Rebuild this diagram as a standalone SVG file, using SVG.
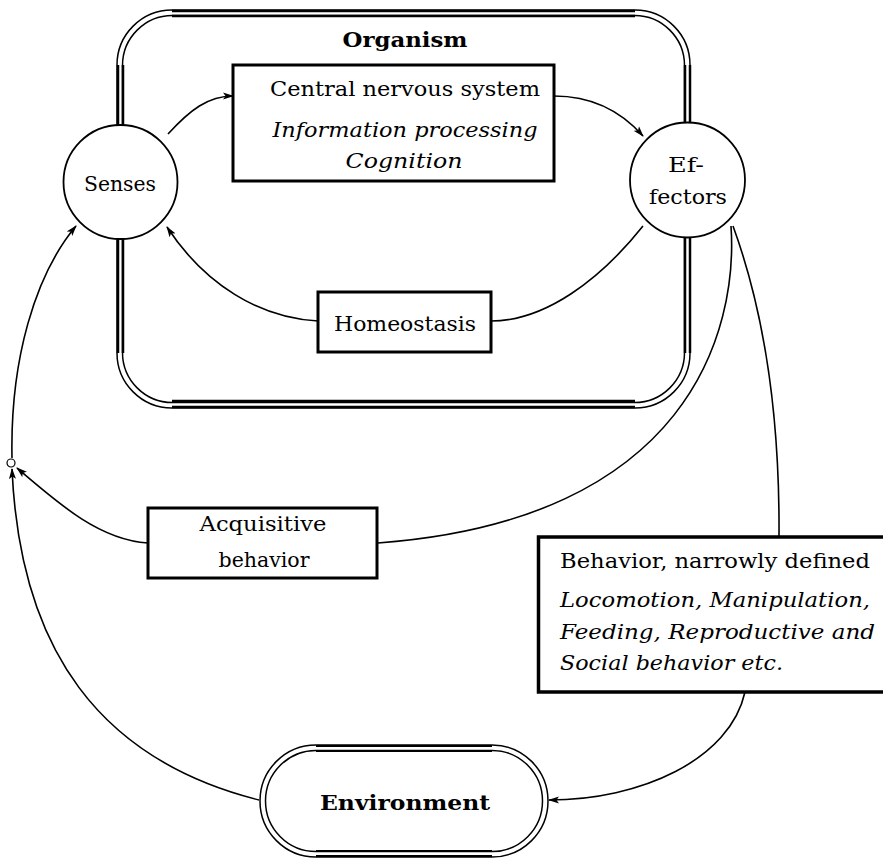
<svg xmlns="http://www.w3.org/2000/svg" width="883" height="860" viewBox="0 0 883 860">
<style>
text{font-family:'DejaVu Serif','Liberation Serif',serif;font-size:21px;fill:#000}
.b{font-weight:bold}
.i{font-style:italic}
.box{fill:#fff;stroke:#000;stroke-width:3}
.thin{fill:none;stroke:#000;stroke-width:1.5}
.thick{fill:none;stroke:#000;stroke-width:2.5}
.node{fill:#fff;stroke:#000;stroke-width:1.8}
.c{fill:none;stroke:#000;stroke-width:1.6}
.a{marker-end:url(#ah)}
</style>
<defs>
<marker id="ah" markerWidth="12" markerHeight="8" refX="10" refY="4" orient="auto" markerUnits="userSpaceOnUse">
<path d="M0,0.5 L11,4 L0,7.5 L2.5,4 z" fill="#000"/>
</marker>
</defs>
<g id="organism">
<rect class="thin" x="117" y="10" width="573" height="398" rx="55"/>
<rect class="thin" x="122.5" y="15.5" width="562" height="387" rx="50"/>
<path class="thick" d="M172,11 H635 M172,16 H635 M172,401 H635 M172,407 H635 M118,65 V353 M123,65 V353 M685,65 V353 M690,65 V353"/>
<text class="b" x="405" y="47" text-anchor="middle" textLength="125" lengthAdjust="spacingAndGlyphs">Organism</text>
</g>
<g id="connectors">
<path class="c a" d="M168,134 C190,110 208,96 233,96"/>
<path class="c a" d="M554,96 C590,96 620,110 643,136"/>
<path class="c" d="M643,226 C600,280 545,321 491,321"/>
<path class="c a" d="M318,321 C260,318 205,285 167,227"/>
<path class="c a" d="M12,458 C10,360 35,275 76,226"/>
<path class="c" d="M731,226 C738,330 690,520 378,543"/>
<path class="c" d="M733,226 C760,300 780,400 779,537"/>
<path class="c a" d="M148,543 C100,540 60,505 17,468"/>
<path class="c a" d="M745,692 C730,760 640,800 549,800"/>
<path class="c a" d="M259,800 C100,760 20,650 12,469"/>
</g>
<g id="senses">
<circle class="node" cx="120.5" cy="182" r="57"/>
<text x="120" y="191" text-anchor="middle" textLength="72" lengthAdjust="spacingAndGlyphs">Senses</text>
</g>
<g id="effectors">
<circle class="node" cx="687.5" cy="180" r="57.5"/>
<text x="686" y="172" text-anchor="middle" textLength="36" lengthAdjust="spacingAndGlyphs">Ef-</text>
<text x="688" y="204" text-anchor="middle" textLength="78" lengthAdjust="spacingAndGlyphs">fectors</text>
</g>
<g id="cns">
<rect class="box" x="233" y="65" width="321" height="116"/>
<text x="405" y="96" text-anchor="middle" textLength="270" lengthAdjust="spacingAndGlyphs">Central nervous system</text>
<text class="i" x="405" y="137" text-anchor="middle" textLength="265" lengthAdjust="spacingAndGlyphs">Information processing</text>
<text class="i" x="404" y="168" text-anchor="middle" textLength="117" lengthAdjust="spacingAndGlyphs">Cognition</text>
</g>
<g id="homeostasis">
<rect class="box" x="318" y="292" width="173" height="60"/>
<text x="405" y="331" text-anchor="middle" textLength="142" lengthAdjust="spacingAndGlyphs">Homeostasis</text>
</g>
<g id="junction">
<circle cx="11" cy="463" r="4" fill="#fff" stroke="#000" stroke-width="1.2"/>
</g>
<g id="acquisitive">
<rect class="box" x="148" y="508" width="229" height="70"/>
<text x="263" y="531" text-anchor="middle" textLength="127" lengthAdjust="spacingAndGlyphs">Acquisitive</text>
<text x="264" y="567" text-anchor="middle" textLength="91" lengthAdjust="spacingAndGlyphs">behavior</text>
</g>
<g id="behavior">
<path d="M885,537 H538.5 V692 H885" fill="#fff" stroke="#000" stroke-width="3.5"/>
<text x="560" y="568" textLength="310" lengthAdjust="spacingAndGlyphs">Behavior, narrowly defined</text>
<text class="i" x="560" y="607" textLength="310" lengthAdjust="spacingAndGlyphs">Locomotion, Manipulation,</text>
<text class="i" x="560" y="639" textLength="315" lengthAdjust="spacingAndGlyphs">Feeding, Reproductive and</text>
<text class="i" x="560" y="670" textLength="223" lengthAdjust="spacingAndGlyphs">Social behavior etc.</text>
</g>
<g id="environment">
<rect class="thin" x="260" y="745" width="288" height="112" rx="56"/>
<rect class="thin" x="265.5" y="750.5" width="277" height="101" rx="50.5"/>
<path d="M316,746 H492 M316,751 H492 M316,851 H492 M316,856 H492" stroke="#000" stroke-width="2.2" fill="none"/>
<text class="b" x="405" y="810" text-anchor="middle" textLength="170" lengthAdjust="spacingAndGlyphs">Environment</text>
</g>
</svg>
